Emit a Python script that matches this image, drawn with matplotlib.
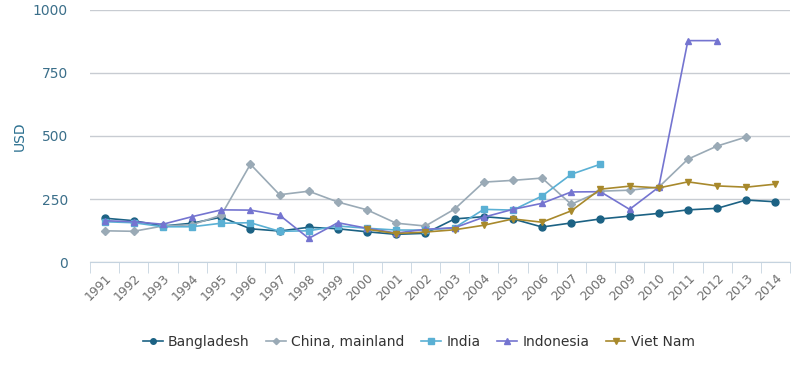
import matplotlib.pyplot as plt
import numpy as np

years = [str(y) for y in range(1991, 2015)]

bangladesh = [174, 164, 143, 154, 178, 132, 123, 138, 132, 120, 110, 114, 171, 180,
              171, 139, 155, 171, 182, 193, 207, 213, 246, 239]
china = [124, 122, 143, 148, 186, 388, 267, 281, 238, 207, 154, 143, 210, 317,
         324, 333, 229, 281, 285, 297, 408, 460, 496, None]
india = [160, 156, 140, 140, 154, 156, 122, 124, 143, 134, 127, 127, 136, 209,
         206, 262, 348, 388, None, None, None, None, None, None]
indonesia = [164, 160, 150, 180, 207, 206, 186, 94, 156, 134, 115, 130, 136, 178,
             209, 233, 278, 279, 209, 297, 878, 878, None, None]
vietnam = [None] * 9 + [130, 113, 119, 128, 146, 171, 158, 203, 289, 301, 294,
                        318, 302, 297, 309]

series = [
    ("Bangladesh", bangladesh, "#1c6284", "o", 5),
    ("China, mainland", china, "#9aaab6", "D", 4),
    ("India", india, "#5ab0d4", "s", 5),
    ("Indonesia", indonesia, "#7474d0", "^", 5),
    ("Viet Nam", vietnam, "#a8892c", "v", 5),
]

fig = plt.figure(figsize=(8, 3.65), dpi=100)
ax = fig.add_axes([0.1125, 0.282, 0.875, 0.691])

x = np.arange(len(years))
for name, vals, col, mk, ms in series:
    y = np.array([np.nan if v is None else v for v in vals], dtype=float)
    ax.plot(x, y, color=col, marker=mk, markersize=ms, linewidth=1.2, label=name)

ax.set_xlim(-0.5, len(years) - 0.5)
ax.set_ylim(0, 1000)
ax.set_yticks([0, 250, 500, 750, 1000])
ax.yaxis.grid(True, color="#c8ccd2", linewidth=1)
ax.set_axisbelow(True)
for s in ["top", "right", "left"]:
    ax.spines[s].set_visible(False)
ax.spines["bottom"].set_color("#c5d3df")
ax.tick_params(axis="y", length=0, labelcolor="#3b6f8a", labelsize=10, pad=16)
ax.set_xticks(x)
ax.set_xticklabels(years, rotation=45, ha="right", rotation_mode="anchor",
                   color="#6f6f6f", fontsize=9)
ax.set_xticks(np.arange(-0.5, len(years), 1), minor=True)
ax.tick_params(axis="x", which="major", length=0, pad=7)
ax.tick_params(axis="x", which="minor", length=8, color="#c5d3df")
ax.set_ylabel("USD", color="#2a6f8f", fontsize=10, labelpad=4)

ax.legend(loc="upper center", bbox_to_anchor=(0.47, -0.24), ncol=5, frameon=False,
          fontsize=10, handlelength=1.4, columnspacing=1.2, handletextpad=0.4,
          markerscale=0.8, labelcolor="#333333")

fig.savefig("out.png", dpi=100)
